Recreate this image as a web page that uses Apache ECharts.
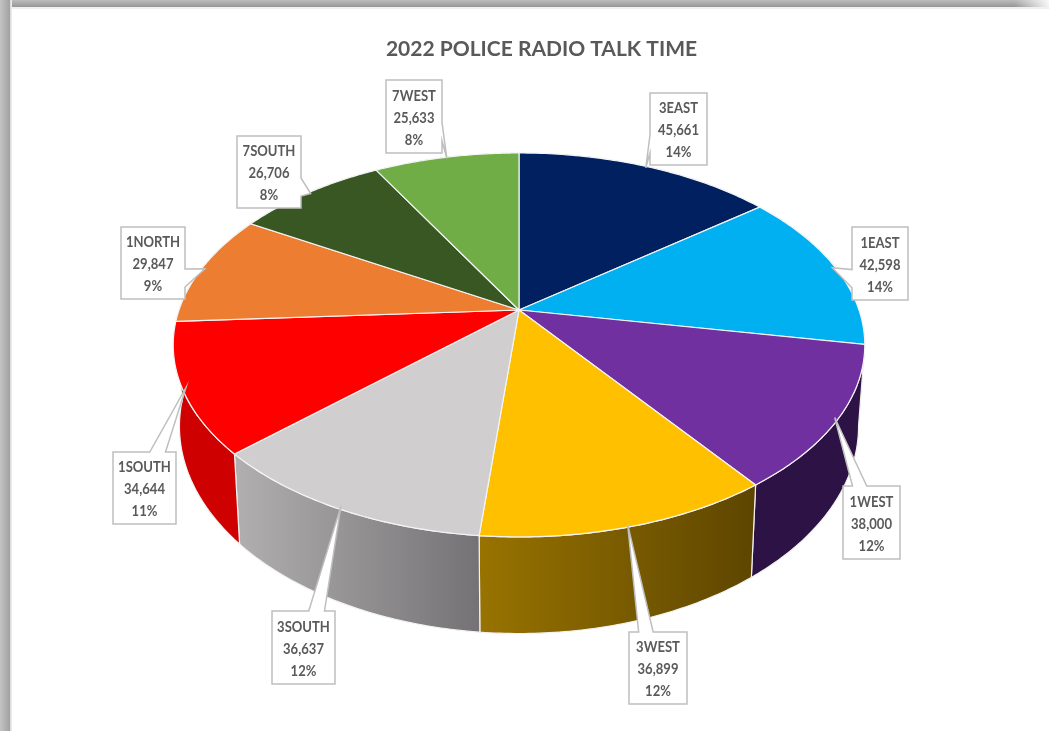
<!DOCTYPE html>
<html>
<head>
<meta charset="utf-8">
<style>html,body{margin:0;padding:0;background:#fff}#chart{width:1049px;height:731px}</style>
<script src="https://cdn.jsdelivr.net/npm/echarts@6/dist/echarts.min.js"></script>
</head>
<body>
<div id="chart"></div>
<script>
// Talk time per radio zone, clockwise from twelve o'clock
const zones = ['3EAST', '1EAST', '1WEST', '3WEST', '3SOUTH', '1SOUTH', '1NORTH', '7SOUTH', '7WEST'];
const talkTime = [45661, 42598, 38000, 36899, 36637, 34644, 29847, 26706, 25633];
const percentLabels = ['14%', '14%', '12%', '12%', '12%', '11%', '9%', '8%', '8%'];

const topColors = ['#002060', '#00B0F0', '#7030A0', '#FFC000', '#D0CECE', '#FF0000', '#ED7D31', '#385723', '#70AD47'];
// Wall shading, left colour then right colour
const wallColors = [
  ['#001030', '#001030'], ['#006a90', '#006a90'], ['#2d1245', '#2d1245'],
  ['#987300', '#5e4600'], ['#b0aeae', '#747274'], ['#cf0000', '#cf0000'],
  ['#8e4b1d', '#8e4b1d'], ['#223415', '#223415'], ['#43682b', '#43682b']
];

// Callout boxes: left, top, right, bottom
const calloutBoxes = [
  [650, 93, 707, 165], [852, 227, 908, 300], [843, 486, 900, 559],
  [629, 632, 687, 704], [272, 611, 335, 684], [113, 452, 176, 524],
  [121, 227, 185, 299], [237, 136, 301, 208], [386, 80, 442, 153]
];

// Perspective of the disc: centre, half axes and foreshortening
const view = { cx: 519, cy: 310, a: 340, b: 185.6, p: 0.182 };
// Lower rim is derived from the upper rim by these factors
const lower = { sx: 0.982, sy: 1.08, dy: 78.5 };

const total = talkTime.reduce((s, v) => s + v, 0);
const startAngle = (i) => talkTime.slice(0, i).reduce((s, v) => s + v, 0) / total * Math.PI * 2;
const endAngle = (i) => startAngle(i + 1);

function upperRim(t, r = 1) {
  const w = 1 + view.p * Math.cos(t) * r;
  return [view.cx + view.a * r * Math.sin(t) / w, view.cy - view.b * r * Math.cos(t) / w];
}
function lowerRim(t) {
  const q = upperRim(t);
  return [view.cx + lower.sx * (q[0] - view.cx), view.cy + lower.sy * (q[1] - view.cy) + lower.dy];
}
function arc(fn, i) {
  const pts = [];
  const n = 60;
  for (let k = 0; k <= n; k++) {
    pts.push(fn(startAngle(i) + (endAngle(i) - startAngle(i)) * k / n));
  }
  return pts;
}

function renderWall(params) {
  const i = params.dataIndex;
  const top = arc(upperRim, i);
  const bottom = arc(lowerRim, i);
  const c = wallColors[i];
  const xs = bottom.map((q) => q[0]);
  return {
    type: 'polygon',
    shape: { points: top.concat(bottom.slice().reverse()) },
    style: {
      fill: new echarts.graphic.LinearGradient(Math.min(...xs), 0, Math.max(...xs), 0,
        [{ offset: 0, color: c[0] }, { offset: 1, color: c[1] }], true),
      stroke: '#f2f2f2',
      lineWidth: 1.2
    }
  };
}

function renderTop(params) {
  const i = params.dataIndex;
  return {
    type: 'polygon',
    shape: { points: [[view.cx, view.cy]].concat(arc(upperRim, i)) },
    style: { fill: topColors[i], stroke: '#f4f4f4', lineWidth: 1.2 }
  };
}

// Rectangular callout whose wedge leaves the edge facing its target
function calloutPoints(box, tip) {
  const [l, t, r, b] = box;
  const w = r - l, h = b - t;
  const dx = tip[0] - (l + r) / 2, dy = tip[1] - (t + b) / 2;
  const vertical = Math.abs(dy) > Math.abs(dx * h / w);
  if (vertical) {
    const f = dx > 0 ? [7 / 12, 10 / 12] : [2 / 12, 5 / 12];
    const xa = l + w * f[0], xb = l + w * f[1];
    return dy < 0
      ? [[l, t], [xa, t], tip, [xb, t], [r, t], [r, b], [l, b]]
      : [[l, t], [r, t], [r, b], [xb, b], tip, [xa, b], [l, b]];
  }
  const f = dy > 0 ? [7 / 12, 10 / 12] : [2 / 12, 5 / 12];
  const ya = t + h * f[0], yb = t + h * f[1];
  return dx < 0
    ? [[l, t], [r, t], [r, b], [l, b], [l, yb], tip, [l, ya]]
    : [[l, t], [r, t], [r, ya], tip, [r, yb], [r, b], [l, b]];
}

function renderCallout(params, api) {
  const i = params.dataIndex;
  const tip = upperRim((startAngle(i) + endAngle(i)) / 2, 0.99);
  const box = calloutBoxes[i];
  const x = (box[0] + box[2]) / 2;
  const y = (box[1] + box[3]) / 2 + 1.5;
  const text = zones[i] + '\n' + api.value(0).toLocaleString('en-US') + '\n' + percentLabels[i];
  return {
    type: 'group',
    children: [
      {
        type: 'polygon',
        shape: { points: calloutPoints(box, tip) },
        style: { fill: '#fff', stroke: '#bfbfbf', lineWidth: 1.5 }
      },
      {
        type: 'text',
        x: x, y: y, scaleX: 0.87,
        style: {
          x: 0, y: 0, text: text, align: 'center', verticalAlign: 'middle',
          fill: '#5a5a5a', font: 'bold 15px Lato', lineHeight: 22
        }
      }
    ]
  };
}

// Grey edge of the framed sheet along its top and left sides
const frame = [
  {
    type: 'rect', z: -10, silent: true,
    shape: { x: 0, y: 0, width: 1049, height: 7 },
    style: {
      fill: new echarts.graphic.LinearGradient(0, 0, 0, 1,
        [{ offset: 0, color: '#bcbcbc' }, { offset: 1, color: '#969696' }])
    }
  },
  {
    type: 'rect', z: -9, silent: true,
    shape: { x: 1000, y: 0, width: 49, height: 7 },
    style: {
      fill: new echarts.graphic.LinearGradient(0, 0, 1, 0,
        [{ offset: 0.3, color: 'rgba(255,255,255,0)' }, { offset: 1, color: 'rgba(255,255,255,0.9)' }])
    }
  },
  {
    type: 'rect', z: -8, silent: true,
    shape: { x: 0, y: 0, width: 12, height: 731 },
    style: {
      fill: new echarts.graphic.LinearGradient(0, 0, 1, 0,
        [{ offset: 0, color: '#c4c4c4' }, { offset: 0.8, color: '#a2a2a2' }, { offset: 0.85, color: '#d8d8d8' }, { offset: 1, color: '#f2f2f2' }])
    }
  },
  {
    type: 'rect', z: -8, silent: true,
    shape: { x: 12, y: 7, width: 1037, height: 2 },
    style: { fill: '#f0f0f0' }
  }
];

const chart = echarts.init(document.getElementById('chart'), null, { renderer: 'canvas' });
chart.setOption({
  animation: false,
  backgroundColor: '#fff',
  title: {
    text: '2022 POLICE RADIO TALK TIME',
    left: 536.5, top: 33.5, textAlign: 'center',
    textStyle: { fontFamily: 'Lato', fontWeight: 'bold', fontSize: 21, color: '#595959' }
  },
  graphic: frame,
  series: [
    { type: 'custom', coordinateSystem: 'none', z: 2, renderItem: renderWall, data: talkTime },
    { type: 'custom', coordinateSystem: 'none', z: 3, renderItem: renderTop, data: talkTime },
    { type: 'custom', coordinateSystem: 'none', z: 4, renderItem: renderCallout, data: talkTime }
  ]
});
</script>
</body>
</html>
